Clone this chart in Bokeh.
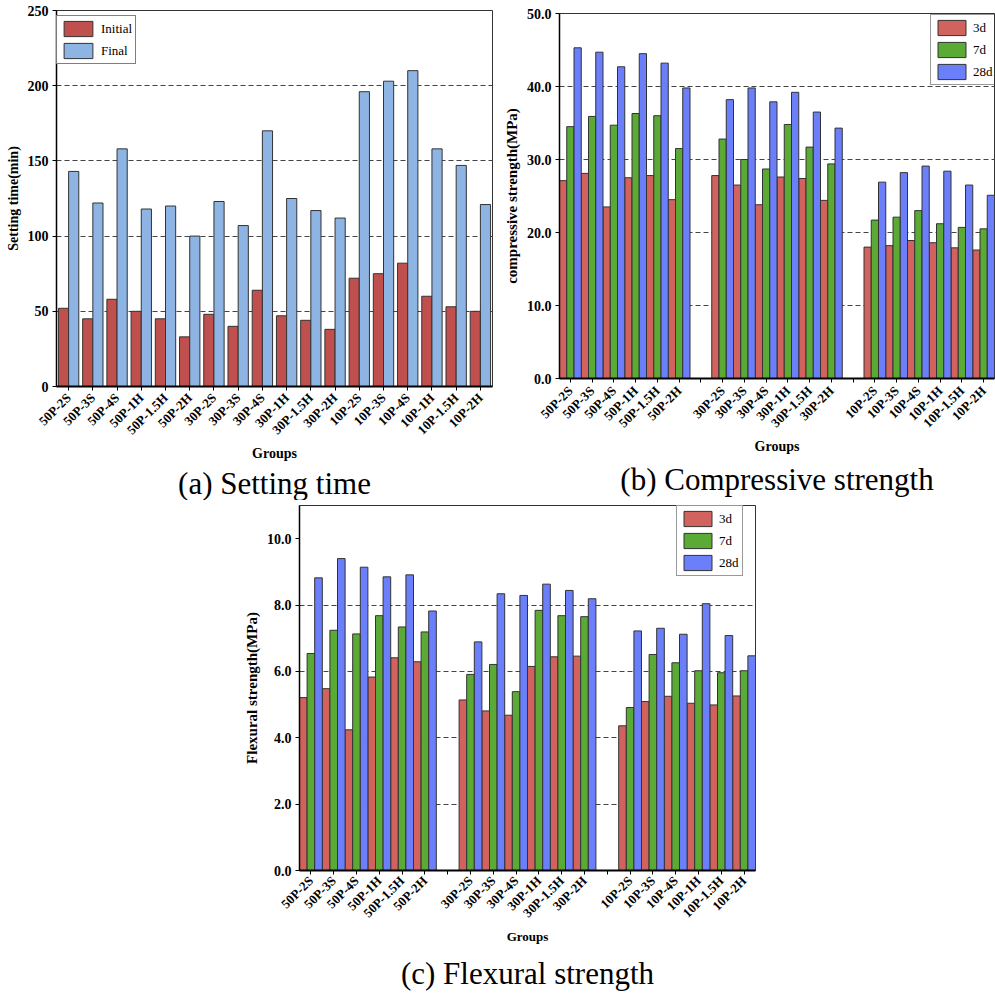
import math
from bokeh.plotting import figure
from bokeh.layouts import column, row
from bokeh.models import (ColumnDataSource, FactorRange, Range1d, FixedTicker,
                          Legend, LegendItem, Title, Spacer, NumeralTickFormatter)
from bokeh.transform import dodge
from bokeh.embed import file_html
from bokeh.resources import INLINE

FONT = "Liberation Serif"

# ---------------- data ----------------
groups = ["50P-2S", "50P-3S", "50P-4S", "50P-1H", "50P-1.5H", "50P-2H",
          "30P-2S", "30P-3S", "30P-4S", "30P-1H", "30P-1.5H", "30P-2H",
          "10P-2S", "10P-3S", "10P-4S", "10P-1H", "10P-1.5H", "10P-2H"]

# (a) setting time (min)
setting_initial = [52, 45, 58, 50, 45, 33, 48, 40, 64, 47, 44, 38, 72, 75, 82, 60, 53, 50]
setting_final = [143, 122, 158, 118, 120, 100, 123, 107, 170, 125, 117, 112, 196, 203, 210, 158, 147, 121]

# (b) compressive strength (MPa)
comp_3d = [27.1, 28.1, 23.5, 27.5, 27.8, 24.5,
           27.8, 26.5, 23.8, 27.6, 27.4, 24.4,
           18.0, 18.2, 18.9, 18.6, 17.9, 17.6]
comp_7d = [34.5, 35.9, 34.7, 36.3, 36.0, 31.5,
           32.8, 30.0, 28.7, 34.8, 31.7, 29.4,
           21.7, 22.1, 23.0, 21.2, 20.7, 20.5]
comp_28d = [45.3, 44.7, 42.7, 44.5, 43.2, 39.8,
            38.2, 39.8, 37.9, 39.2, 36.5, 34.3,
            26.9, 28.2, 29.1, 28.4, 26.5, 25.1]

# (c) flexural strength (MPa)
flex_3d = [5.21, 5.48, 4.24, 5.83, 6.41, 6.29,
           5.14, 4.81, 4.68, 6.15, 6.44, 6.46,
           4.36, 5.09, 5.25, 5.04, 4.99, 5.26]
flex_7d = [6.54, 7.24, 7.13, 7.68, 7.34, 7.19,
           5.91, 6.21, 5.39, 7.84, 7.68, 7.65,
           4.91, 6.51, 6.26, 6.02, 5.96, 6.02]
flex_28d = [8.82, 9.40, 9.14, 8.85, 8.91, 7.82,
            6.89, 8.34, 8.29, 8.63, 8.44, 8.19,
            7.22, 7.30, 7.12, 8.04, 7.08, 6.47]

series_ab = ["Initial", "Final"]
series_bc = ["3d", "7d", "28d"]

# categorical axis for (b),(c): three groups separated by blank slots
factors_bc = groups[0:6] + [" "] + groups[6:12] + ["  "] + groups[12:18]

yticks_a = [0, 50, 100, 150, 200, 250]
yticks_b = [0, 10, 20, 30, 40, 50]
yticks_c = [0, 2, 4, 6, 8, 10]

COL_A = ["#C0504D", "#8DB4E2"]
COL_BC = ["#D2625E", "#5AAA35", "#6B7FFA"]


def style(p, yticks, fmt, xfs, yfs, ylfs, xlfs, xstand):
    p.outline_line_color = "#333333"
    p.outline_line_width = 1
    p.xgrid.visible = False
    p.ygrid.ticker = FixedTicker(ticks=yticks[1:-1])
    p.ygrid.grid_line_color = "#444444"
    p.ygrid.grid_line_dash = "5 3"
    p.ygrid.grid_line_width = 1.2
    p.yaxis.ticker = FixedTicker(ticks=yticks)
    if fmt:
        p.yaxis.formatter = NumeralTickFormatter(format=fmt)
    for ax in (p.xaxis[0], p.yaxis[0]):
        ax.axis_line_color = "black"
        ax.major_tick_line_color = "black"
        ax.major_tick_in = 0
        ax.major_tick_out = 4
        ax.minor_tick_line_color = None
        ax.major_label_text_font = FONT
        ax.major_label_text_font_style = "bold"
        ax.major_label_text_color = "black"
        ax.axis_label_text_font = FONT
        ax.axis_label_text_font_style = "bold"
        ax.axis_label_text_color = "black"
    p.xaxis.axis_line_width = 2
    p.yaxis.axis_line_width = 1.5
    p.xaxis.major_label_text_font_size = xfs
    p.yaxis.major_label_text_font_size = yfs
    p.yaxis.axis_label_text_font_size = ylfs
    p.xaxis.axis_label_text_font_size = xlfs
    p.xaxis.major_label_orientation = math.pi / 4
    p.xaxis.major_label_standoff = xstand
    p.yaxis.major_label_standoff = 4
    p.yaxis.axis_label_standoff = 4
    p.xaxis.axis_label_standoff = 0
    p.xaxis.axis_label = "Groups"
    p.background_fill_color = "white"
    p.border_fill_color = "white"


def caption(p, text, offset, standoff):
    t = Title(text=text, align="center", offset=offset, standoff=standoff,
              text_font=FONT, text_font_size="31px", text_font_style="normal",
              text_color="black")
    p.add_layout(t, "below")


# ---------------- (a) ----------------
src_a = ColumnDataSource(dict(g=groups, initial=setting_initial, final=setting_final))
pa = figure(width=500, height=500, x_range=FactorRange(factors=groups, range_padding=0),
            y_range=Range1d(0, 250), output_backend="svg", toolbar_location=None,
            min_border_left=56, min_border_right=8, min_border_top=10, min_border_bottom=114)
style(pa, yticks_a, None, "13px", "14px", "14px", "14px", 5)
pa.yaxis.axis_label = "Setting time(min)"
ra1 = pa.vbar(x=dodge("g", -0.21, range=pa.x_range), top="initial", width=0.42, source=src_a,
              fill_color=COL_A[0], line_color="#333333", line_width=1)
ra2 = pa.vbar(x=dodge("g", 0.21, range=pa.x_range), top="final", width=0.42, source=src_a,
              fill_color=COL_A[1], line_color="#333333", line_width=1)
leg_a = Legend(items=[LegendItem(label=series_ab[0], renderers=[ra1]),
                      LegendItem(label=series_ab[1], renderers=[ra2])],
               location=(0, 322), glyph_width=36, glyph_height=19, spacing=3, padding=3,
               label_standoff=5, label_text_font=FONT, label_text_font_size="13px",
               label_text_color="black",
               border_line_color="black", border_line_width=1, margin=0)
pa.add_layout(leg_a)
caption(pa, "(a) Setting time", -96, 0)


# ---------------- (b) / (c) ----------------
def triple_panel(vals, yr, yticks, ylabel, width, height, ml, mr, mt, mb, legloc, cap, capoff,
                 capstand, xfs, xlfs, xstand):
    src = ColumnDataSource(dict(g=groups, s3=vals[0], s7=vals[1], s28=vals[2]))
    p = figure(width=width, height=height, x_range=FactorRange(factors=factors_bc, range_padding=0),
               y_range=Range1d(0, yr), output_backend="svg", toolbar_location=None,
               min_border_left=ml, min_border_right=mr, min_border_top=mt, min_border_bottom=mb)
    style(p, yticks, "0.0", xfs, "14px", "15px", xlfs, xstand)
    p.yaxis.axis_label = ylabel
    rs = []
    for off, col, key in zip([-1 / 3, 0, 1 / 3], COL_BC, ["s3", "s7", "s28"]):
        r = p.vbar(x=dodge("g", off, range=p.x_range), top=key, width=1 / 3, source=src,
                   fill_color=col, line_color="#333333", line_width=1)
        rs.append(r)
    leg = Legend(items=[LegendItem(label=s, renderers=[r]) for s, r in zip(series_bc, rs)],
                 location=legloc, glyph_width=35, glyph_height=19, spacing=3, padding=3,
                 label_standoff=4, label_text_font=FONT, label_text_font_size="13px",
                 label_text_color="black",
                 border_line_color="#333333", border_line_width=1, margin=0)
    p.add_layout(leg)
    caption(p, cap, capoff, capstand)
    return p


pb = triple_panel([comp_3d, comp_7d, comp_28d], 50, yticks_b, "compressive strength(MPa)",
                  495, 500, 57, 1, 13, 122, (371, 293), "(b) Compressive strength", -15, 7,
                  "13px", "14px", 6)
pc = triple_panel([flex_3d, flex_7d, flex_28d], 11, yticks_c, "Flexural strength(MPa)",
                  520, 497, 59, 5, 5, 127, (377, 294), "(c) Flexural strength", -27, 14,
                  "13px", "13px", 4)

layout = column(row(column(pa), column(pb)), row(Spacer(width=240, height=497), pc))
open("out.html", "w").write(file_html(layout, INLINE))
